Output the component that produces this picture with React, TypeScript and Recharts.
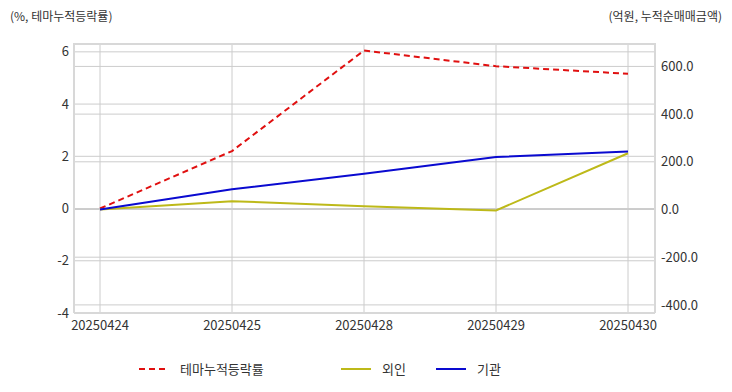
import React from "react";
import { LineChart, Line, XAxis, YAxis, CartesianGrid, Legend } from "recharts";

const categories = ["20250424", "20250425", "20250428", "20250429", "20250430"];
const themeRate = [0, 2.2, 6.05, 5.45, 5.16];
const foreignNet = [0, 35, 14, -4, 236];
const instNet = [0, 85, 150, 220, 243];
const leftTicks = [-4, -2, 0, 2, 4, 6];
const rightTicks = [-400, -200, 0, 200, 400, 600];
const leftDomain = [-4, 6.3];
const rightDomain = [-434, 694];

const data = categories.map((d, i) => ({
  date: d,
  theme: themeRate[i],
  foreign: foreignNet[i],
  inst: instNet[i],
}));

const FONT = "'Noto Sans CJK KR', 'Noto Sans', sans-serif";
const GRID = "#cccccc";
const BORDER = "#d8d8d8";
const RED = "#e01010";
const YELLOW = "#bdb919";
const BLUE = "#0a0ad0";

const MARGIN = { top: 44, right: 0, left: 0, bottom: 8 };
const LEFT_W = 74;
const RIGHT_W = 77;
const CHART_W = 732;
const CHART_H = 392;

const legendItems = [
  { label: "테마누적등락률", color: RED, dash: "6 4", left: 139 },
  { label: "외인", color: YELLOW, dash: undefined, left: 341 },
  { label: "기관", color: BLUE, dash: undefined, left: 436 },
];

const LegendContent = () => (
  <div style={{ position: "relative", width: 732, height: 41, fontFamily: FONT, fontSize: 13, color: "#333" }}>
    {legendItems.map((it) => (
      <div key={it.label} style={{ position: "absolute", left: it.left, top: 17, height: 18, display: "flex", alignItems: "center" }}>
        <svg width={30} height={4} style={{ display: "block" }}>
          <line x1={0} y1={2} x2={30} y2={2} stroke={it.color} strokeWidth={2} strokeDasharray={it.dash} />
        </svg>
        <span style={{ marginLeft: 11, lineHeight: "18px" }}>{it.label}</span>
      </div>
    ))}
  </div>
);

export default function App() {
  return (
    <div style={{ position: "absolute", left: 0, top: 0, width: CHART_W, height: CHART_H, background: "#fff" }}>
      <div style={{ position: "absolute", left: 10, top: 7, fontFamily: FONT, fontSize: 12, color: "#333", whiteSpace: "nowrap" }}>
        (%, 테마누적등락률)
      </div>
      <div style={{ position: "absolute", right: 10, top: 7, fontFamily: FONT, fontSize: 12, color: "#333", whiteSpace: "nowrap" }}>
        (억원, 누적순매매금액)
      </div>
      <LineChart width={CHART_W} height={CHART_H} data={data} margin={MARGIN}>
        <CartesianGrid yAxisId="left" stroke={GRID} vertical={true} horizontal={true} />
        <CartesianGrid yAxisId="right" stroke={GRID} vertical={false} horizontal={true} />
        <XAxis
          dataKey="date"
          padding={{ left: 26, right: 27 }}
          height={30}
          tickLine={false}
          tickSize={4}
          tickMargin={4}
          axisLine={{ stroke: BORDER, strokeWidth: 2 }}
          tick={{ fill: "#333", fontSize: 13, fontFamily: FONT }}
          interval={0}
        />
        <YAxis
          yAxisId="left"
          orientation="left"
          width={LEFT_W}
          domain={leftDomain}
          ticks={leftTicks}
          allowDataOverflow
          tickLine={false}
          tickSize={3}
          tickMargin={2}
          axisLine={{ stroke: BORDER, strokeWidth: 2 }}
          tick={{ fill: "#333", fontSize: 13, fontFamily: FONT }}
        />
        <YAxis
          yAxisId="right"
          orientation="right"
          width={RIGHT_W}
          domain={rightDomain}
          ticks={rightTicks}
          allowDataOverflow
          tickLine={false}
          tickSize={4}
          tickMargin={2}
          axisLine={{ stroke: BORDER, strokeWidth: 2 }}
          tickFormatter={(v: number) => v.toFixed(1)}
          tick={{ fill: "#333", fontSize: 13, fontFamily: FONT }}
        />
        <Legend verticalAlign="bottom" content={() => <LegendContent />} wrapperStyle={{ left: 0, width: 732 }} />
        <Line yAxisId="left" dataKey="theme" stroke={RED} strokeWidth={2} strokeDasharray="6 4" dot={false} isAnimationActive={false} />
        <Line yAxisId="right" dataKey="foreign" stroke={YELLOW} strokeWidth={2} dot={false} isAnimationActive={false} />
        <Line yAxisId="right" dataKey="inst" stroke={BLUE} strokeWidth={2} dot={false} isAnimationActive={false} />
      </LineChart>
      <div
        style={{
          position: "absolute",
          left: MARGIN.left + LEFT_W - 1,
          top: MARGIN.top - 1,
          width: CHART_W - MARGIN.left - MARGIN.right - LEFT_W - RIGHT_W + 2,
          height: 2,
          background: BORDER,
          pointerEvents: "none",
        }}
      />
    </div>
  );
}
